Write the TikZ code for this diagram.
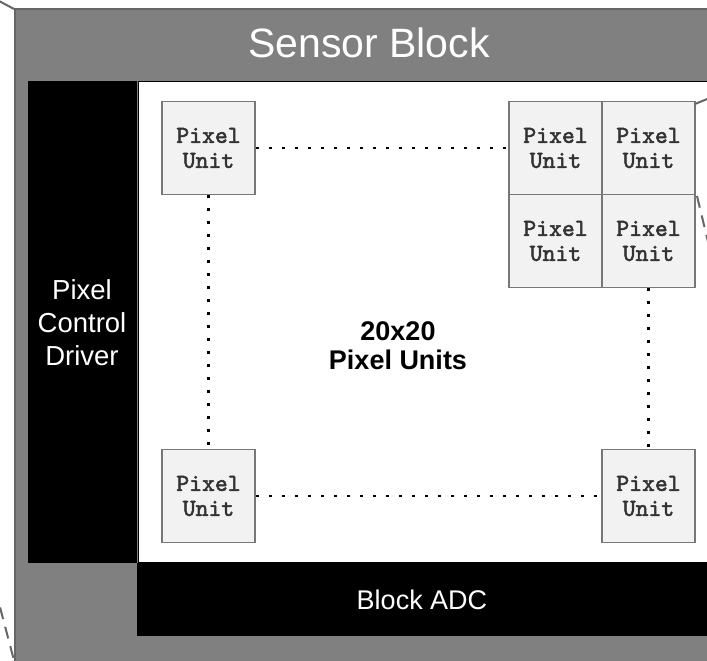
\documentclass[tikz,border=0pt]{standalone}
\usepackage{fontspec}
\setmainfont{Liberation Sans}
\newfontfamily\pixfont{lmmono10-regular}[Extension=.otf, FakeBold=2.2]
\definecolor{blockgray}{HTML}{808080}
\definecolor{blockedge}{HTML}{666666}
\definecolor{cellfill}{HTML}{F2F2F2}
\definecolor{celledge}{HTML}{777777}
\tikzset{
  region/.style={rectangle, anchor=north west, inner sep=0pt},
  pixcell/.style={rectangle, draw=celledge, line width=1.8pt, fill=cellfill,
    minimum width=93pt, minimum height=93pt, inner sep=0pt, align=center,
    font=\pixfont\fontsize{24.5}{25}\selectfont, text=black!80},
  dotline/.style={line width=2.6pt, dash pattern=on 2.6pt off 10.4pt, black},
  zoomline/.style={blockedge, line width=2pt, dash pattern=on 12pt off 8pt},
  whitetext/.style={text=white, align=center}
}
\begin{document}
\begin{tikzpicture}[x=1pt,y=-1pt]
\useasboundingbox (0,0) rectangle (707,661);
\clip (0,0) rectangle (707,661);

% sensor block frame and its sub-blocks
\node[region, fill=blockgray, draw=blockedge, line width=2pt,
  minimum width=720pt, minimum height=680pt] (sensor) at (14,8) {};
\node[whitetext, font=\fontsize{41}{46}\selectfont] (title) at (369,43) {Sensor Block};
\node[region, fill=black, minimum width=109pt, minimum height=482pt] (driver) at (28,81) {};
\node[whitetext, font=\fontsize{27.5}{33}\selectfont] (drivertext) at (82,323) {Pixel\\Control\\Driver};
\node[region, fill=white, draw=black, line width=0.8pt,
  minimum width=600pt, minimum height=481pt] (array) at (138,81) {};
\node[region, fill=black, minimum width=600pt, minimum height=73pt] (adc) at (137,563) {};
\node[whitetext, font=\fontsize{27}{30}\selectfont] (adctext) at (422,600) {Block ADC};
\node[align=center, font=\bfseries\fontsize{27}{29}\selectfont] (count) at (398,346) {20x20\\Pixel Units};

% pixel units
\node[pixcell] (tl) at (208.5,148) {Pixel\\Unit};
\node[pixcell] (g11) at (555.5,148) {Pixel\\Unit};
\node[pixcell] (g12) at (648.5,148) {Pixel\\Unit};
\node[pixcell] (g21) at (555.5,241) {Pixel\\Unit};
\node[pixcell] (g22) at (648.5,241) {Pixel\\Unit};
\node[pixcell] (bl) at (208.5,496) {Pixel\\Unit};
\node[pixcell] (br) at (648.5,496) {Pixel\\Unit};

% dotted rows and columns of the array
\draw[dotline] (tl.east) -- (g11.west);
\draw[dotline] (tl.south) -- (bl.north);
\draw[dotline] (bl.east) -- (br.west);
\draw[dotline] (g22.south) -- (br.north);

% zoom guide lines leaving the frame
\coordinate (zA) at (-14,-6);
\coordinate (zB) at (14,9);
\coordinate (zC) at (-4,592);
\coordinate (zD) at (16,668);
\coordinate (zE) at (697,196);
\coordinate (zF) at (710,250);
\coordinate (zG) at (695,104);
\coordinate (zH) at (712,97);
\draw[blockedge, line width=2pt] (zB) -- (zA);
\draw[zoomline, dash phase=4pt] (zC) -- (zD);
\draw[zoomline] (zE) -- (zF);
\draw[blockedge, line width=2pt] (zG) -- (zH);
\end{tikzpicture}
\end{document}
